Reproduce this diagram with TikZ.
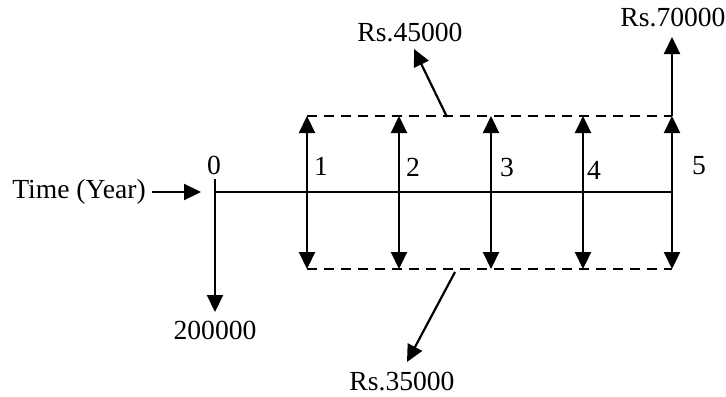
\documentclass[tikz,border=0pt]{standalone}
\usepackage{fontspec}
\setmainfont{Liberation Serif}
\usetikzlibrary{arrows.meta}
\begin{document}
\begin{tikzpicture}[x=0.5pt,y=-0.5pt,
  lbl/.style={font=\fontsize{13.8}{16}\selectfont, inner sep=0pt},
  tip/.tip={Triangle[length=8.5pt,width=8pt]},
  flow/.style={line width=1.1pt, -tip},
  dflow/.style={line width=1.1pt, tip-tip},
  axisline/.style={line width=0.9pt},
  level/.style={line width=1pt, dash pattern=on 5pt off 3.5pt}]
\useasboundingbox (0,0) rectangle (726,396);
% labels
\node[lbl] (time) at (79,192) {Time (Year)};
\node[lbl] (y0) at (214,165) {0};
\node[lbl] (y1) at (321,166) {1};
\node[lbl] (y2) at (413,167) {2};
\node[lbl] (y3) at (507,167) {3};
\node[lbl] (y4) at (594,170) {4};
\node[lbl] (y5) at (699,166) {5};
\node[lbl] (out) at (215,330) {200000};
\node[lbl] (r45) at (410,33) {Rs.45000};
\node[lbl] (r35) at (402,382) {Rs.35000};
\node[lbl] (r70) at (673,18) {Rs.70000};
% coordinates
\coordinate (tA) at (152,192);
\coordinate (tB) at (201,192);
\coordinate (a0) at (215,192);
\coordinate (a5) at (672,192);
\coordinate (k0) at (215,179);
\coordinate (k0b) at (215,312);
\foreach \i/\x in {1/307,2/399,3/491,4/583,5/672}{
  \coordinate (top\i) at (\x,116);
  \coordinate (bot\i) at (\x,269);
}
\coordinate (top70) at (672,37);
\coordinate (p45) at (447,117);
\coordinate (h45) at (414,49);
\coordinate (p35) at (455,272);
\coordinate (h35) at (407,362);
% drawing
\draw[flow] (tA) -- (tB);
\draw[axisline] (a0) -- (a5);
\draw[flow] (k0) -- (k0b);
\draw[level] (top1) -- (top5);
\draw[level] (bot1) -- (bot5);
\foreach \i in {1,...,5}{
  \draw[dflow] (top\i) -- (bot\i);
}
\draw[flow] (top5) -- (top70);
\draw[flow] (p45) -- (h45);
\draw[flow] (p35) -- (h35);
\end{tikzpicture}
\end{document}
